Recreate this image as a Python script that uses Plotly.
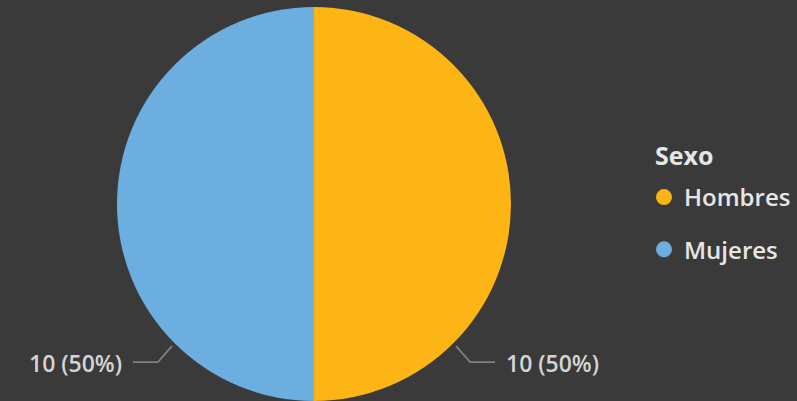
import math
import plotly.graph_objects as go

labels = ["Hombres", "Mujeres"]
values = [10, 10]
colors = ["#FDB515", "#6CAEE0"]
legend_title = "Sexo"

W, H = 797, 401
BG = "#3a3a3a"
FONT = "Open Sans"

# pie geometry (pixels)
cx, cy, r = 314, 204, 197
dom_x = [(cx - r) / W, (cx + r) / W]
dom_y = [1 - (cy + r) / H, 1 - (cy - r) / H]

fig = go.Figure()
fig.add_trace(go.Pie(
    labels=labels, values=values, marker=dict(colors=colors, line=dict(width=0)),
    sort=False, direction="clockwise", rotation=0, textinfo="none",
    hoverinfo="label+value+percent", showlegend=False,
    domain=dict(x=dom_x, y=dom_y),
))

# legend entries
for lab, col in zip(labels, colors):
    fig.add_trace(go.Scatter(
        x=[None], y=[None], mode="markers", name=lab, legendgroup=lab,
        marker=dict(symbol="circle", size=18, color=col),
    ))


def px(x):
    return x / W


def py(y):
    return 1 - y / H


# outside labels with leader lines
total = sum(values)
shapes, annotations = [], []
sides = [1, -1]  # right slice then left slice
for v, side in zip(values, sides):
    ang = math.radians(45)
    ex = cx + side * r * math.cos(ang) * 1.02
    ey = cy + r * math.sin(ang) * 1.02
    kx = ex + side * 14
    ky = ey + 16
    tx = kx + side * 25
    shapes.append(dict(type="path", xref="paper", yref="paper",
                       path=f"M {px(ex)},{py(ey)} L {px(kx)},{py(ky)} L {px(tx)},{py(ky)}",
                       line=dict(color="#808080", width=1.8)))
    pct = 100 * v / total
    annotations.append(dict(xref="paper", yref="paper", x=px(tx + side * 9), y=py(ky + 1),
                            text=f"{v} ({pct:.0f}%)", showarrow=False,
                            xanchor="left" if side > 0 else "right", yanchor="middle",
                            font=dict(family=FONT, size=23, color="#d4d4d4", weight=600)))

# legend title
annotations.append(dict(xref="paper", yref="paper", x=px(653), y=py(155),
                        text=legend_title, showarrow=False, xanchor="left", yanchor="middle",
                        font=dict(family=FONT, size=25, color="#e6e6e6", weight="bold")))

fig.update_layout(
    width=W, height=H,
    margin=dict(l=0, r=0, t=0, b=0),
    paper_bgcolor=BG, plot_bgcolor=BG,
    xaxis=dict(visible=False), yaxis=dict(visible=False),
    shapes=shapes, annotations=annotations,
    legend=dict(
        font=dict(family=FONT, size=24, color="#e6e6e6", weight=600),
        x=644 / W, y=1 - 175 / H, xanchor="left", yanchor="top",
        tracegroupgap=18, itemwidth=30, bgcolor="rgba(0,0,0,0)",
    ),
)

fig.write_html("out.html", config={"displayModeBar": False},
               post_script="document.body.style.margin='0px';")
